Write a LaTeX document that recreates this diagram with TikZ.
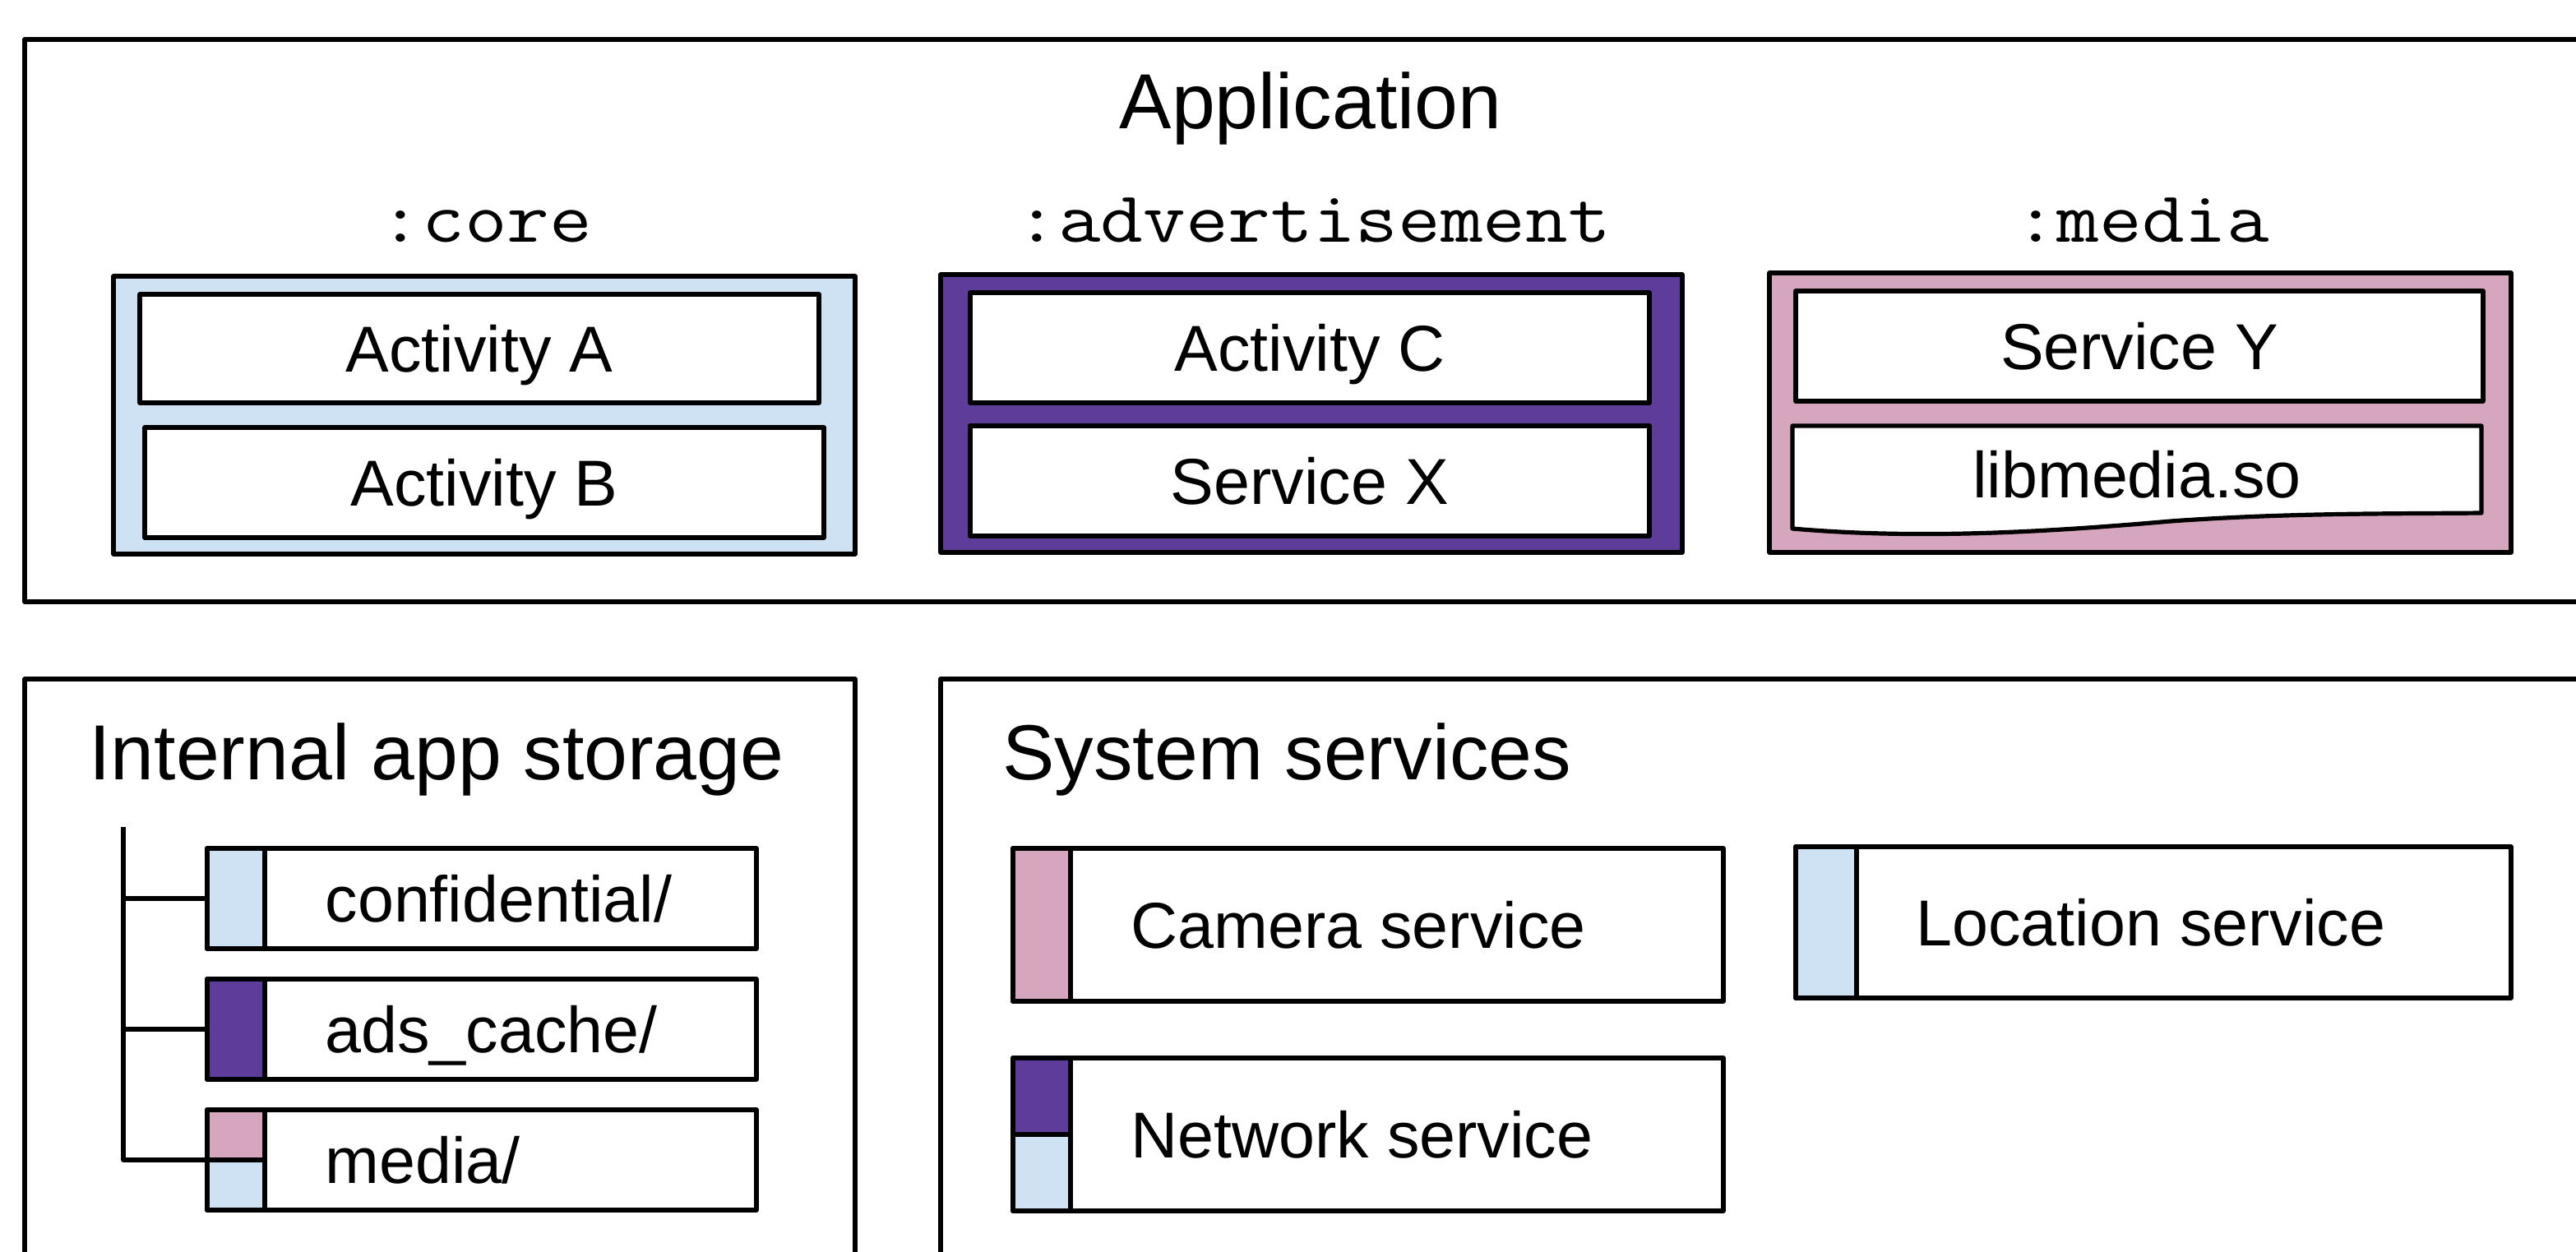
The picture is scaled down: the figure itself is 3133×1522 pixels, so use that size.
\documentclass[tikz,border=0pt]{standalone}
\usepackage{fontspec}
\setmainfont{Liberation Sans}
\newfontfamily\monofont[FakeStretch=1.14]{Latin Modern Mono}
\definecolor{lblue}{HTML}{CFE2F3}
\definecolor{dpurple}{HTML}{5E3C99}
\definecolor{lpink}{HTML}{D5A6BD}
\begin{document}
\begin{tikzpicture}[x=0.25pt,y=-0.25pt, line width=1.3pt, line join=round,
  box/.style 2 args={draw, rectangle, inner sep=0pt, minimum width=#1*0.25pt, minimum height=#2*0.25pt},
  titletext/.style={font=\fontsize{23.75}{28}\selectfont, text height=17pt, text depth=0pt, inner sep=0pt},
  labeltext/.style={font=\fontsize{19.75}{24}\selectfont, text height=14.1pt, text depth=0pt, inner sep=0pt},
  proctext/.style={font=\monofont\fontsize{22}{26}\selectfont, inner sep=0pt, anchor=base},
]
\clip (0,0) rectangle (3133,1522);
\fill[white] (0,0) rectangle (3133,1522);

% Application
\node[box={3170}{684}] (app) at (1615,390) {};
\node[titletext] (apptitle) at (1594,122) {Application};

\node[proctext] (pcore) at (591,294) {:core};
\node[proctext] (padv) at (1597,294) {:advertisement};
\node[proctext] (pmedia) at (2605,294) {:media};

\node[box={902}{338}, fill=lblue] (core) at (589,505) {};
\node[box={826}{132}, fill=white] (actA) at (583,424) {};
\node[labeltext] (actAt) at (actA.center) {Activity A};
\node[box={826}{134}, fill=white] (actB) at (589,587) {};
\node[labeltext] (actBt) at (actB.center) {Activity B};

\node[box={902}{338}, fill=dpurple] (adv) at (1595,503) {};
\node[box={826}{134}, fill=white] (actC) at (1593,423) {};
\node[labeltext] (actCt) at (actC.center) {Activity C};
\node[box={826}{134}, fill=white] (svcX) at (1593,585) {};
\node[labeltext] (svcXt) at (svcX.center) {Service X};

\node[box={902}{340}, fill=lpink] (media) at (2603,502) {};
\node[box={836}{134}, fill=white] (svcY) at (2602,421) {};
\node[labeltext] (svcYt) at (svcY.center) {Service Y};
\draw[fill=white] (2180,518) -- (3018,518) -- (3018,624)
  .. controls (2900,625) and (2780,624) .. (2640,634)
  .. controls (2480,648) and (2330,656) .. (2180,643) -- cycle;
\node[labeltext] (libt) at (2599,577) {libmedia.so};

% Internal app storage
\node[box={1010}{774}] (storage) at (535,1213) {};
\node[titletext] (storaget) at (531,914) {Internal app storage};

\filldraw[fill=lblue] (252,1032) rectangle (322,1154);
\node[box={668}{122}] (conf) at (586,1093) {};
\node[labeltext, anchor=west] (conft) at (393,1093) {confidential/};

\filldraw[fill=dpurple] (252,1191) rectangle (322,1313);
\node[box={668}{122}] (ads) at (586,1252) {};
\node[labeltext, anchor=west] (adst) at (393,1252) {ads\_cache/};

\filldraw[fill=lpink] (252,1350) rectangle (322,1411);
\filldraw[fill=lblue] (252,1411) rectangle (322,1472);
\node[box={668}{122}] (med) at (586,1411) {};
\node[labeltext, anchor=west] (medt) at (393,1411) {media/};

\coordinate (treetop) at (150,1006);
\draw (treetop) |- (med.west);
\draw (conf.west -| treetop) -- (conf.west);
\draw (ads.west -| treetop) -- (ads.west);

% System services
\node[box={2056}{774}] (sys) at (2172,1213) {};
\node[titletext, anchor=west] (syst) at (1217,914) {System services};

\filldraw[fill=lpink] (1232,1032) rectangle (1302,1218);
\node[box={864}{186}] (cam) at (1664,1125) {};
\node[labeltext, anchor=west] (camt) at (1373,1125) {Camera service};

\filldraw[fill=dpurple] (1232,1287) rectangle (1302,1380);
\filldraw[fill=lblue] (1232,1380) rectangle (1302,1473);
\node[box={864}{186}] (net) at (1664,1380) {};
\node[labeltext, anchor=west] (nett) at (1373,1380) {Network service};

\filldraw[fill=lblue] (2184,1030) rectangle (2258,1214);
\node[box={870}{184}] (loc) at (2619,1122) {};
\node[labeltext, anchor=west] (loct) at (2328,1122) {Location service};
\end{tikzpicture}
\end{document}
